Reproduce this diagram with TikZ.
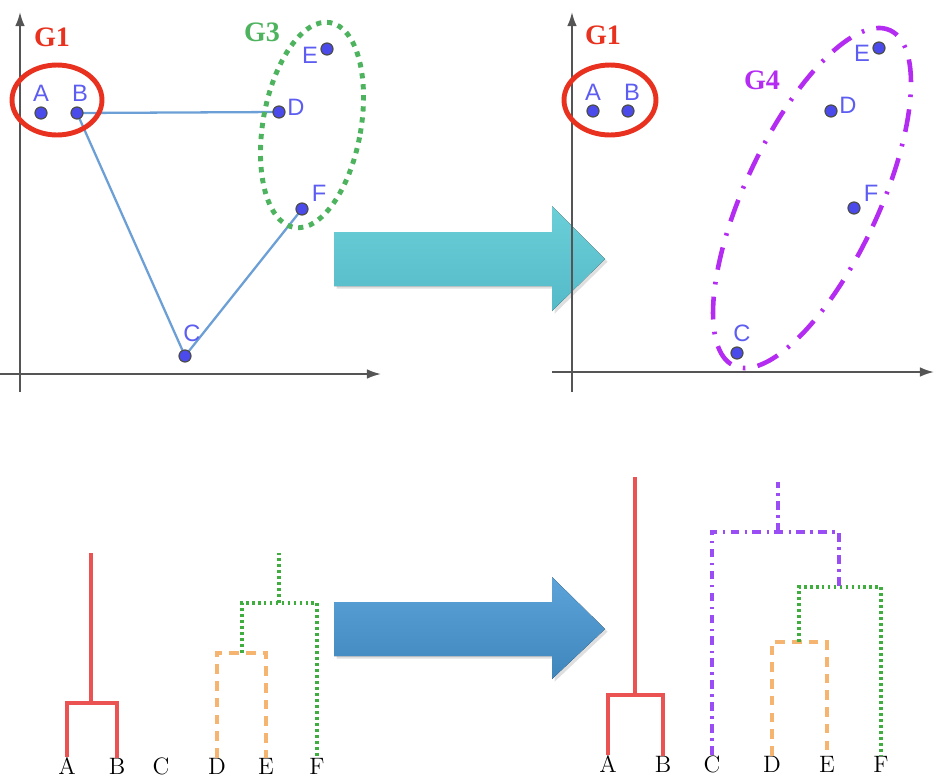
\documentclass[tikz,border=0pt]{standalone}
\usepackage{fontspec}
\newfontfamily\geofont{Liberation Sans}
\newfontfamily\grpfont{Liberation Serif}
\usepackage{tikz}
\usetikzlibrary{arrows.meta,shadows}

\definecolor{grpred}{HTML}{E8321F}
\definecolor{grpgreen}{HTML}{4DB35E}
\definecolor{grppurple}{HTML}{B42BF2}
\definecolor{ptblue}{HTML}{4B4BEB}
\definecolor{lblblue}{HTML}{5D5DF2}
\definecolor{linkblue}{HTML}{6B9FD6}
\definecolor{axisgrey}{HTML}{555555}
\definecolor{dred}{HTML}{EB5252}
\definecolor{dorange}{HTML}{F5B470}
\definecolor{dgreen}{HTML}{3FAE3F}
\definecolor{dpurple}{HTML}{9A4CF5}
\definecolor{cyantop}{HTML}{6BCFD8}
\definecolor{cyanbot}{HTML}{55BAC8}
\definecolor{bluetop}{HTML}{5BA3D9}
\definecolor{bluebot}{HTML}{3F86BD}

\begin{document}
\begin{tikzpicture}[x=0.02cm,y=-0.02cm,>={Latex[length=8pt,width=5.5pt]},
  axis/.style={->,draw=axisgrey,line width=1.1pt},
  pt/.style={circle,fill=ptblue,draw=black!70,line width=0.7pt,inner sep=0pt,minimum size=0.24cm},
  ptlbl/.style={text=lblblue,font=\geofont\fontsize{13.5}{14}\selectfont,inner sep=0pt},
  grplbl/.style={font=\grpfont\bfseries\fontsize{16}{18}\selectfont,inner sep=0pt},
  link/.style={draw=linkblue,line width=1.3pt},
  bigarrow/.style={drop shadow={opacity=0.25,shadow xshift=1.5pt,shadow yshift=-1.5pt}},
  leaf/.style={font=\fontsize{13.5}{14}\selectfont,inner sep=0pt},
  redtree/.style={draw=dred,line width=2pt},
  oratree/.style={draw=dorange,line width=1.9pt,dash pattern=on 5.5pt off 4pt},
  grntree/.style={draw=dgreen,line width=1.9pt,dash pattern=on 1.6pt off 1.8pt},
  purtree/.style={draw=dpurple,line width=1.9pt,dash pattern=on 5pt off 3pt on 1.5pt off 3pt}]
\useasboundingbox (0,0) rectangle (944,778);

% block arrows
\fill[bigarrow,top color=cyantop,bottom color=cyanbot]
  (334,232) -- (552,232) -- (552,206) -- (605,259) -- (552,311) -- (552,286) -- (334,286) -- cycle;
\fill[bigarrow,top color=bluetop,bottom color=bluebot]
  (334,602) -- (552,602) -- (552,577) -- (605,629) -- (552,679) -- (552,656) -- (334,656) -- cycle;

% before: scatter with G1 and G3
\draw[axis] (20,392) -- (20,12);
\draw[axis] (0,374) -- (381,374);
\coordinate (lA) at (41,113);
\coordinate (lB) at (77,113);
\coordinate (lC) at (185,356);
\coordinate (lD) at (279,112);
\coordinate (lE) at (327,49);
\coordinate (lF) at (302,209);
\draw[link] (lB) -- (lD) (lB) -- (lC) -- (lF);
\draw[grpred,line width=2.8pt] (57,100) ellipse [x radius=0.9cm,y radius=0.7cm];
\draw[grpgreen,line width=2.8pt,dash pattern=on 3pt off 3.3pt]
  (312,125) ellipse [x radius=0.98cm,y radius=2.08cm,rotate=-10];
\foreach \p in {lA,lB,lC,lD,lE,lF}
  \node[pt] (\p dot) at (\p) {};
\node[ptlbl] (lAt) at (41,93) {A};
\node[ptlbl] (lBt) at (80,93) {B};
\node[ptlbl] (lCt) at (192,333) {C};
\node[ptlbl] (lDt) at (296,107) {D};
\node[ptlbl] (lEt) at (310,55) {E};
\node[ptlbl] (lFt) at (319,193) {F};
\node[grplbl,text=grpred] (lG1) at (52,37) {G1};
\node[grplbl,text=grpgreen] (lG3) at (262,32) {G3};

% after: scatter with G1 and G4
\draw[axis] (572,392) -- (572,12);
\draw[axis] (552,372) -- (934,372);
\coordinate (rA) at (593,111);
\coordinate (rB) at (628,111);
\coordinate (rC) at (737,353);
\coordinate (rD) at (831,111);
\coordinate (rE) at (879,48);
\coordinate (rF) at (854,208);
\draw[grpred,line width=2.8pt] (610,100) ellipse [x radius=0.92cm,y radius=0.7cm];
\draw[grppurple,line width=2.6pt,dash pattern=on 13pt off 7pt on 1.5pt off 7pt]
  (812,198) ellipse [x radius=1.34cm,y radius=3.7cm,rotate=-25];
\foreach \p in {rA,rB,rC,rD,rE,rF}
  \node[pt] (\p dot) at (\p) {};
\node[ptlbl] (rAt) at (593,92) {A};
\node[ptlbl] (rBt) at (632,92) {B};
\node[ptlbl] (rCt) at (742,333) {C};
\node[ptlbl] (rDt) at (848,105) {D};
\node[ptlbl] (rEt) at (862,53) {E};
\node[ptlbl] (rFt) at (871,193) {F};
\node[grplbl,text=grpred] (rG1) at (603,35) {G1};
\node[grplbl,text=grppurple] (rG4) at (762,80) {G4};

% before: dendrogram
\node[leaf] (da) at (67,766) {A};
\node[leaf] (db) at (117,766) {B};
\node[leaf] (dc) at (161,766) {C};
\node[leaf] (dd) at (217,766) {D};
\node[leaf] (de) at (266,766) {E};
\node[leaf] (df) at (317,766) {F};
\coordinate (dab) at (91,703);
\coordinate (dde) at (242,653);
\coordinate (ddef) at (279,603);
\draw[redtree] (da.north) |- (dab) -| (db.north);
\draw[redtree] (dab) -- ++(0,-150);
\draw[oratree] (dd.north) |- (dde) -| (de.north);
\draw[grntree] (dde) |- (ddef) -| (df.north);
\draw[grntree] (ddef) -- ++(0,-50);

% after: dendrogram
\node[leaf] (ea) at (608,764) {A};
\node[leaf] (eb) at (663,764) {B};
\node[leaf] (ec) at (712,764) {C};
\node[leaf] (ed) at (772,764) {D};
\node[leaf] (ee) at (827,764) {E};
\node[leaf] (ef) at (881,764) {F};
\coordinate (eab) at (635,695);
\coordinate (ede) at (799,642);
\coordinate (edef) at (839,587);
\coordinate (ecdef) at (778,532);
\draw[redtree] (ea.north) |- (eab) -| (eb.north);
\draw[redtree] (eab) -- ++(0,-218);
\draw[oratree] (ed.north) |- (ede) -| (ee.north);
\draw[grntree] (ede) |- (edef) -| (ef.north);
\draw[purtree] (ec.north) |- (ecdef) -| (edef);
\draw[purtree] (ecdef) -- ++(0,-50);
\end{tikzpicture}
\end{document}
